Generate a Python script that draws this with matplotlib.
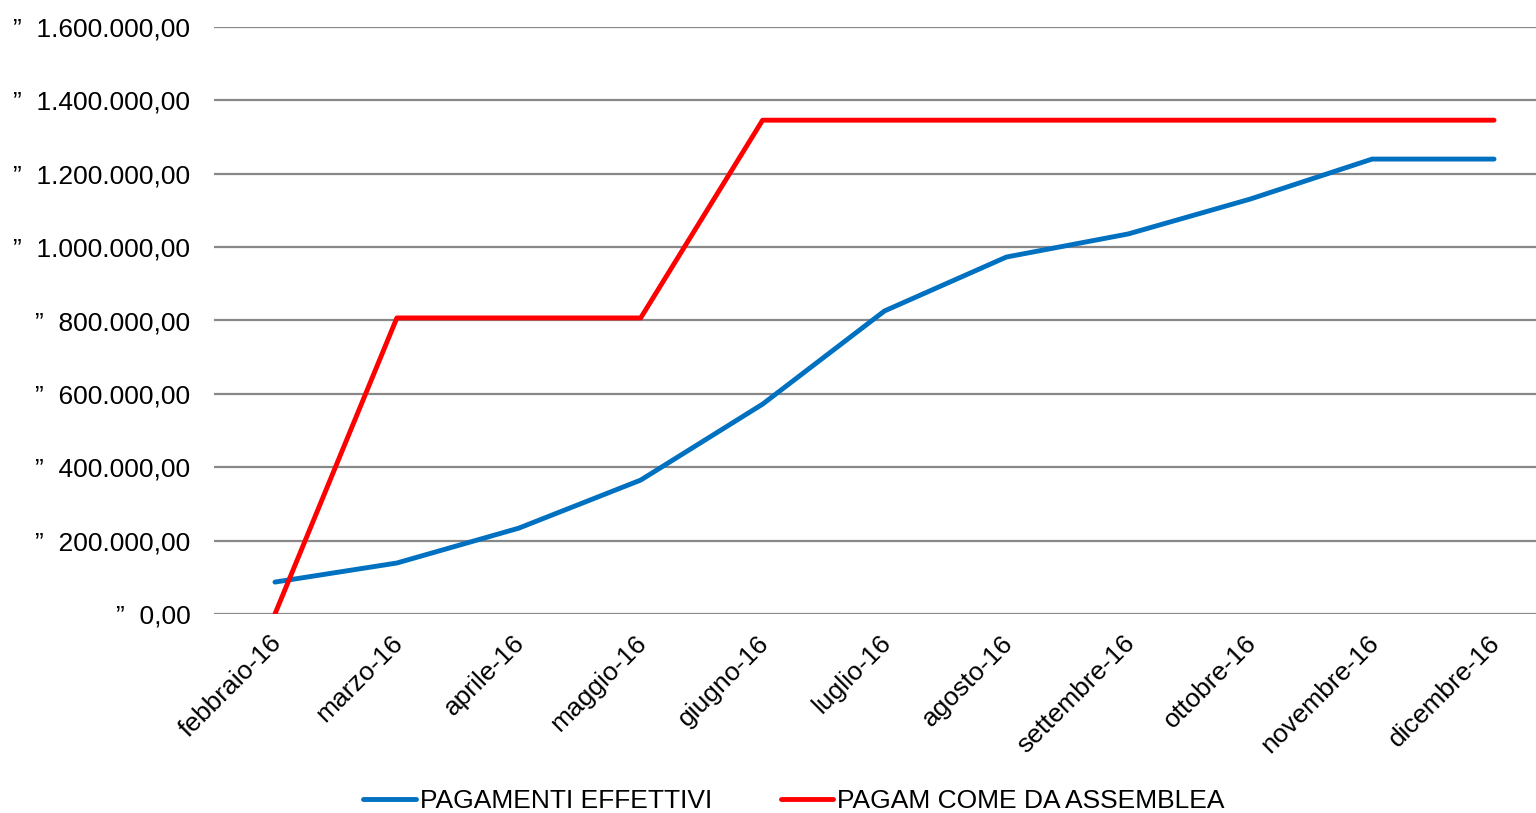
import matplotlib.pyplot as plt
from matplotlib.ticker import FuncFormatter
from matplotlib.transforms import ScaledTranslation

plt.rcParams['font.family'] = ['Liberation Sans', 'DejaVu Sans']

months = ['febbraio-16', 'marzo-16', 'aprile-16', 'maggio-16', 'giugno-16', 'luglio-16',
          'agosto-16', 'settembre-16', 'ottobre-16', 'novembre-16', 'dicembre-16']
effettivi = [87000, 139000, 234000, 365000, 572000, 826000,
             973000, 1036000, 1131000, 1240000, 1240000]
assemblea = [0, 807000, 807000, 807000, 1346000, 1346000,
             1346000, 1346000, 1346000, 1346000, 1346000]
y_ticks = [0, 200000, 400000, 600000, 800000, 1000000, 1200000, 1400000, 1600000]


def euro_fmt(v, pos):
    s = f"{v:,.2f}".replace(',', 'X').replace('.', ',').replace('X', '.')
    return '\u201d  ' + s


fig = plt.figure(figsize=(15.36, 8.13), dpi=100)
# plot area runs a bit past the right edge, like the original
ax = fig.add_axes([214 / 1536, 1 - 614 / 813, 1341 / 1536, (614 - 27) / 813])

x = range(len(months))
ax.plot(x, effettivi, color='#0070C0', lw=3.5, label='PAGAMENTI EFFETTIVI', solid_capstyle='round')
ax.plot(x, assemblea, color='#FF0000', lw=3.5, label='PAGAM COME DA ASSEMBLEA', solid_capstyle='round')

ax.set_xlim(-0.5, len(months) - 0.5)
ax.set_ylim(0, 1600000)
ax.set_yticks(y_ticks)
ax.yaxis.set_major_formatter(FuncFormatter(euro_fmt))
ax.set_xticks(list(x))
ax.set_xticklabels(months, rotation=45, ha='right', rotation_mode='anchor')
ax.tick_params(axis='both', length=0, labelsize=19, colors='black')
ax.tick_params(axis='y', pad=17)
ax.tick_params(axis='x', pad=12)

# nudge the rotated month labels a little to the left
shift = ScaledTranslation(-6 / 100, 0, fig.dpi_scale_trans)
for lab in ax.get_xticklabels():
    lab.set_transform(lab.get_transform() + shift)

ax.grid(axis='y', color='#888888', lw=1.6)
ax.set_axisbelow(True)
for s in ax.spines.values():
    s.set_visible(False)

fig.legend(loc='center', bbox_to_anchor=(794 / 1536, 1 - 801 / 813), ncol=2, frameon=False,
           fontsize=19, handlelength=2.0, handletextpad=0.15, columnspacing=2.6,
           borderpad=0)

fig.savefig('out.png', dpi=100)
